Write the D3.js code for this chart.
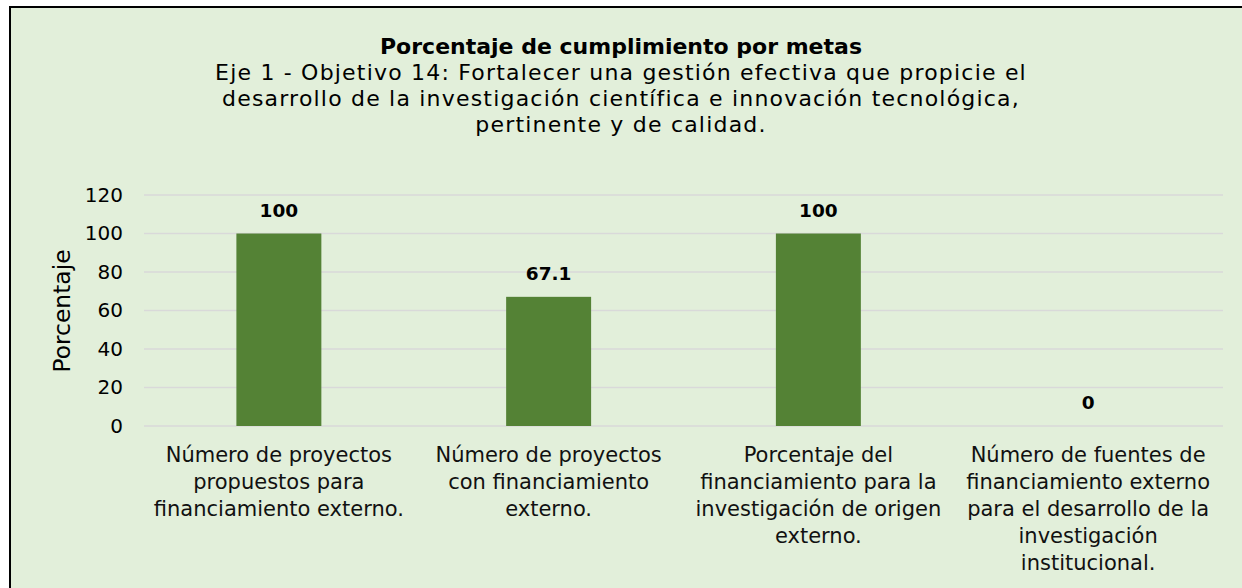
<!DOCTYPE html>
<html>
<head>
<meta charset="utf-8">
<script src="https://cdn.jsdelivr.net/npm/d3@7"></script>
<style>
  body { margin: 0; background: #fff; }
  svg { display: block; font-family: "DejaVu Sans", sans-serif; }
</style>
</head>
<body>
<svg id="chart"></svg>
<script>
const categories = [
    ["Número de proyectos", "propuestos para", "financiamiento externo."],
    ["Número de proyectos", "con financiamiento", "externo."],
    ["Porcentaje del", "financiamiento para la", "investigación de origen", "externo."],
    ["Número de fuentes de", "financiamiento externo", "para el desarrollo de la", "investigación", "institucional."]
];
const values = [100, 67.1, 100, 0];
const valueLabels = ["100", "67.1", "100", "0"];
const yTicks = [0, 20, 40, 60, 80, 100, 120];
const titleText = "Porcentaje de cumplimiento por metas";
const subtitleLines = [
    "Eje 1 - Objetivo 14: Fortalecer una gestión efectiva que propicie el",
    "desarrollo de la investigación científica e innovación tecnológica,",
    "pertinente y de calidad."
];

const W = 1242, H = 588;
const margin = {top: 195, right: 19, bottom: 162, left: 144};
const width = W - margin.left - margin.right;
const height = H - margin.top - margin.bottom;

const svg = d3.select("#chart").attr("width", W).attr("height", H);

// panel background + border (cut at right/bottom like the source)
svg.append("rect")
    .attr("x", 10).attr("y", 7)
    .attr("width", W + 10).attr("height", H + 10)
    .attr("fill", "#e2efda")
    .attr("stroke", "#000")
    .attr("stroke-width", 2);

const g = svg.append("g").attr("transform", `translate(${margin.left}, ${margin.top})`);

const x = d3.scaleBand().domain(d3.range(categories.length)).range([0, width]).padding(0);
const y = d3.scaleLinear().domain([0, 120]).range([height, 0]);
const barW = x.bandwidth() * 0.315;

// gridlines
g.selectAll("line.grid")
    .data(yTicks)
    .join("line")
    .attr("class", "grid")
    .attr("x1", 0).attr("x2", width)
    .attr("y1", d => y(d)).attr("y2", d => y(d))
    .attr("stroke", "#d9d9d9")
    .attr("stroke-width", 1.5);

// y axis labels
const yAxis = g.append("g")
    .call(d3.axisLeft(y).tickValues(yTicks).tickSize(0).tickPadding(21));
yAxis.select(".domain").remove();
yAxis.selectAll("text")
    .attr("font-size", 20)
    .attr("font-family", "DejaVu Sans, sans-serif")
    .attr("fill", "#000");

// bars
g.selectAll("rect.bar")
    .data(values)
    .join("rect")
    .attr("class", "bar")
    .attr("x", (d, i) => x(i) + x.bandwidth() / 2 - barW / 2)
    .attr("y", d => y(d))
    .attr("width", barW)
    .attr("height", d => height - y(d))
    .attr("fill", "#548235");

// value labels
g.selectAll("text.val")
    .data(values)
    .join("text")
    .attr("class", "val")
    .attr("x", (d, i) => x(i) + x.bandwidth() / 2)
    .attr("y", d => y(d) - 17)
    .attr("text-anchor", "middle")
    .attr("font-size", 18.5)
    .attr("font-weight", "bold")
    .text((d, i) => valueLabels[i]);

// category labels
const cat = g.selectAll("text.cat")
    .data(categories)
    .join("text")
    .attr("class", "cat")
    .attr("text-anchor", "middle")
    .attr("font-size", 21)
    .attr("fill", "#111");
cat.selectAll("tspan")
    .data((d, i) => d.map(line => ({line, i})))
    .join("tspan")
    .attr("x", d => x(d.i) + x.bandwidth() / 2)
    .attr("y", (d, j) => height + 36 + j * 27)
    .text(d => d.line);

// y axis title
svg.append("text")
    .attr("transform", `translate(70, 311) rotate(-90)`)
    .attr("text-anchor", "middle")
    .attr("font-size", 23.4)
    .text("Porcentaje");

// title
svg.append("text")
    .attr("x", 621).attr("y", 54)
    .attr("text-anchor", "middle")
    .attr("font-size", 22)
    .attr("font-weight", "bold")
    .text(titleText);

svg.selectAll("text.sub")
    .data(subtitleLines)
    .join("text")
    .attr("class", "sub")
    .attr("x", 621)
    .attr("y", (d, i) => 80 + i * 26)
    .attr("text-anchor", "middle")
    .attr("font-size", 22)
    .attr("letter-spacing", 1.2)
    .text(d => d);
</script>
</body>
</html>
